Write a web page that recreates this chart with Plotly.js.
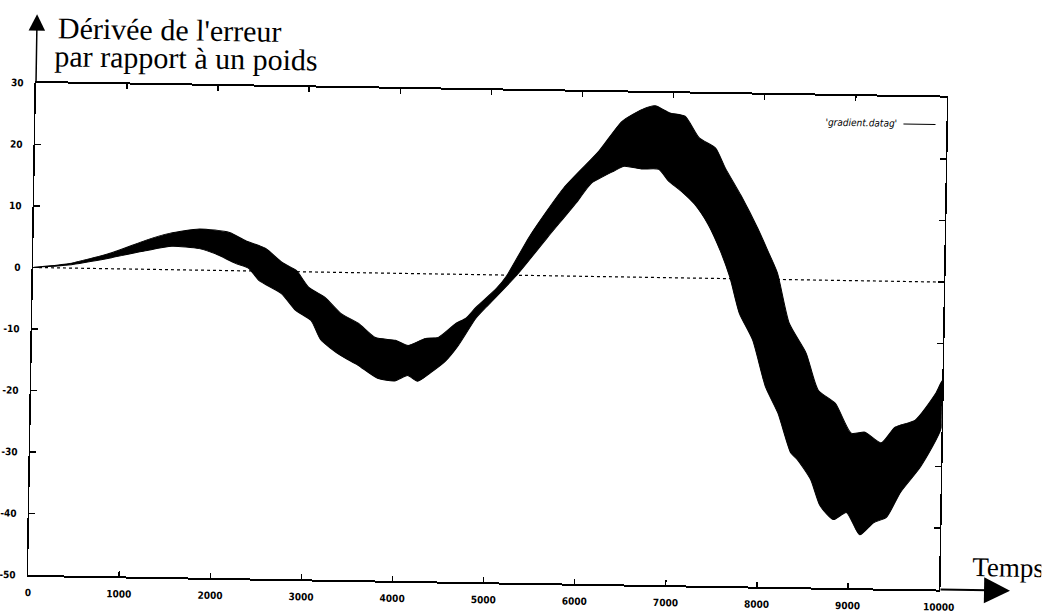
<!DOCTYPE html>
<html>
<head>
<meta charset="utf-8">
<script src="https://cdn.plot.ly/plotly-3.0.1.min.js"></script>
<style>
  html, body { margin: 0; padding: 0; background: #ffffff; overflow: hidden; }
  #plot { width: 1049px; height: 615px; transform: rotate(0.92deg); transform-origin: 36px 83px; }
</style>
</head>
<body>
<div id="plot"></div>
<script>
// ---- data (upper and lower envelope of the oscillating band) ----
const timeUpper = [0,385,860,1230,1490,1820,2150,2330,2550,2730,2890,3030,3210,3390,3580,3770,3990,4130,4320,4460,4650,4760,4870,5090,5200,5450,5810,6190,6440,6660,6800,6960,7130,7290,7470,7580,7760,7950,8060,8170,8310,8500,8640,8830,9010,9160,9340,9490,9710,9930,10000];
const gradUpper = [0,0.7,2.6,4.7,5.9,6.7,6.2,4.9,3.7,1.5,0.2,-2.5,-4.1,-6.7,-8.2,-10.5,-10.9,-11.7,-10.5,-10.3,-8.0,-7.1,-5.3,-2.2,-0.1,6.5,14.3,20.4,25.3,27.3,27.9,26.8,26.3,22.8,21.2,18.0,13.5,8.2,4.7,1.1,-7.1,-11.9,-17.9,-20.0,-24.8,-24.6,-26.3,-23.7,-22.5,-18.1,-16.0];
const timeLower = [0,385,860,1230,1520,1820,2000,2220,2370,2480,2730,2890,3060,3170,3390,3580,3800,3990,4130,4240,4380,4540,4680,4870,5010,5310,5640,5970,6110,6360,6470,6660,6850,6960,7100,7250,7400,7540,7650,7760,7910,8060,8200,8350,8420,8570,8680,8830,8970,9120,9270,9410,9560,9780,10000];
const gradLower = [0,0.5,1.8,3.0,3.8,3.5,2.7,1.2,0.4,-1.5,-3.6,-6.3,-7.9,-11.0,-13.5,-15.0,-17.1,-17.5,-16.6,-17.5,-16.1,-14.2,-11.6,-7.1,-4.8,0.0,6.2,12.3,15.1,17.2,18.0,17.6,17.6,15.7,14.1,12.0,8.8,4.5,0.2,-5.6,-9.9,-17.5,-21.7,-28.2,-29.2,-32.4,-36.7,-38.9,-37.7,-41.3,-39.3,-38.4,-34.3,-30.0,-23.6];

const xTickVals = [0,1000,2000,3000,4000,5000,6000,7000,8000,9000,10000];
const xTickText = ["0","1000","2000","3000","4000","5000","6000","7000","8000","9000","10000"];
const yTickVals = [-50,-40,-30,-20,-10,0,10,20,30];
const yTickText = ["-50","-40","-30","-20","-10","0","10","20","30"];

const seriesName = "'gradient.datag'";
const yTitleLine1 = "Dérivée de l'erreur";
const yTitleLine2 = "par rapport à un poids";
const xTitle = "Temps";

// ---- build the band polygon from the envelopes ----
const bandX = timeUpper.concat(timeLower.slice().reverse());
const bandY = gradUpper.concat(gradLower.slice().reverse());

const band = {
  x: bandX, y: bandY, type: 'scatter', mode: 'lines',
  fill: 'toself', fillcolor: '#000000',
  line: { color: '#000000', width: 1, shape: 'spline', smoothing: 0.6 },
  name: seriesName, showlegend: false, hoverinfo: 'skip'
};

const tickFont = { family: 'Liberation Sans Narrow, DejaVu Sans Condensed, sans-serif', size: 10, color: '#000000', weight: 'bold' };
const titleFont = { family: 'Liberation Serif, Times New Roman, serif', size: 30, color: '#000000' };

const layout = {
  width: 1049, height: 615,
  margin: { l: 36, r: 102, t: 83, b: 40, pad: 0 },
  paper_bgcolor: '#ffffff', plot_bgcolor: '#ffffff',
  showlegend: false,
  xaxis: {
    range: [0, 10000], tickvals: xTickVals, ticktext: xTickText,
    ticks: 'inside', ticklen: 5, tickwidth: 1.5, tickcolor: '#000000',
    showline: true, linecolor: '#000000', linewidth: 2, mirror: 'ticks',
    showgrid: false, zeroline: false, tickfont: tickFont, ticklabelstandoff: 7,
    fixedrange: true
  },
  yaxis: {
    range: [-50, 30], tickvals: yTickVals, ticktext: yTickText,
    ticks: 'inside', ticklen: 6, tickwidth: 1.5, tickcolor: '#000000',
    showline: true, linecolor: '#000000', linewidth: 1.5, mirror: 'ticks',
    showgrid: false, zeroline: false, tickfont: tickFont, ticklabelstandoff: 9,
    fixedrange: true
  },
  shapes: [
    { type: 'line', xref: 'paper', yref: 'y', x0: 0, x1: 1, y0: 0, y1: 0,
      line: { color: '#000000', width: 1.2, dash: 'dot' }, layer: 'below' },
    { type: 'line', xref: 'paper', yref: 'paper', x0: 0.9528, x1: 0.988, y0: 0.945, y1: 0.945,
      line: { color: '#000000', width: 1.2 } }
  ],
  annotations: [
    { text: yTitleLine1, xref: 'paper', yref: 'paper', x: 0.021, y: 1.113,
      xanchor: 'left', yanchor: 'middle', showarrow: false, font: titleFont },
    { text: yTitleLine2, xref: 'paper', yref: 'paper', x: 0.018, y: 1.055,
      xanchor: 'left', yanchor: 'middle', showarrow: false, font: titleFont },
    { text: xTitle, xref: 'paper', yref: 'paper', x: 1.0337, y: 0.046,
      xanchor: 'left', yanchor: 'middle', showarrow: false,
      font: { family: 'Liberation Serif, Times New Roman, serif', size: 27, color: '#000000' } },
    { text: seriesName, xref: 'paper', yref: 'paper', x: 0.907, y: 0.9455,
      xanchor: 'center', yanchor: 'middle', showarrow: false,
      font: { family: 'Liberation Sans Narrow, DejaVu Sans Condensed, sans-serif', size: 10, color: '#000000', style: 'italic' } },
    // axis arrows
    { text: '', xref: 'paper', yref: 'paper', x: 0, y: 1.140, ax: 0, ay: 69,
      showarrow: true, arrowhead: 2, arrowsize: 2.2, arrowwidth: 1.5, arrowcolor: '#000000', standoff: 0, startstandoff: 0 },
    { text: '', xref: 'paper', yref: 'paper', x: 1.078, y: 0, ax: -71, ay: 0,
      showarrow: true, arrowhead: 2, arrowsize: 2.6, arrowwidth: 2, arrowcolor: '#000000', standoff: 0, startstandoff: 0 }
  ]
};

Plotly.newPlot('plot', [band], layout, { staticPlot: true, displayModeBar: false });
</script>
</body>
</html>
